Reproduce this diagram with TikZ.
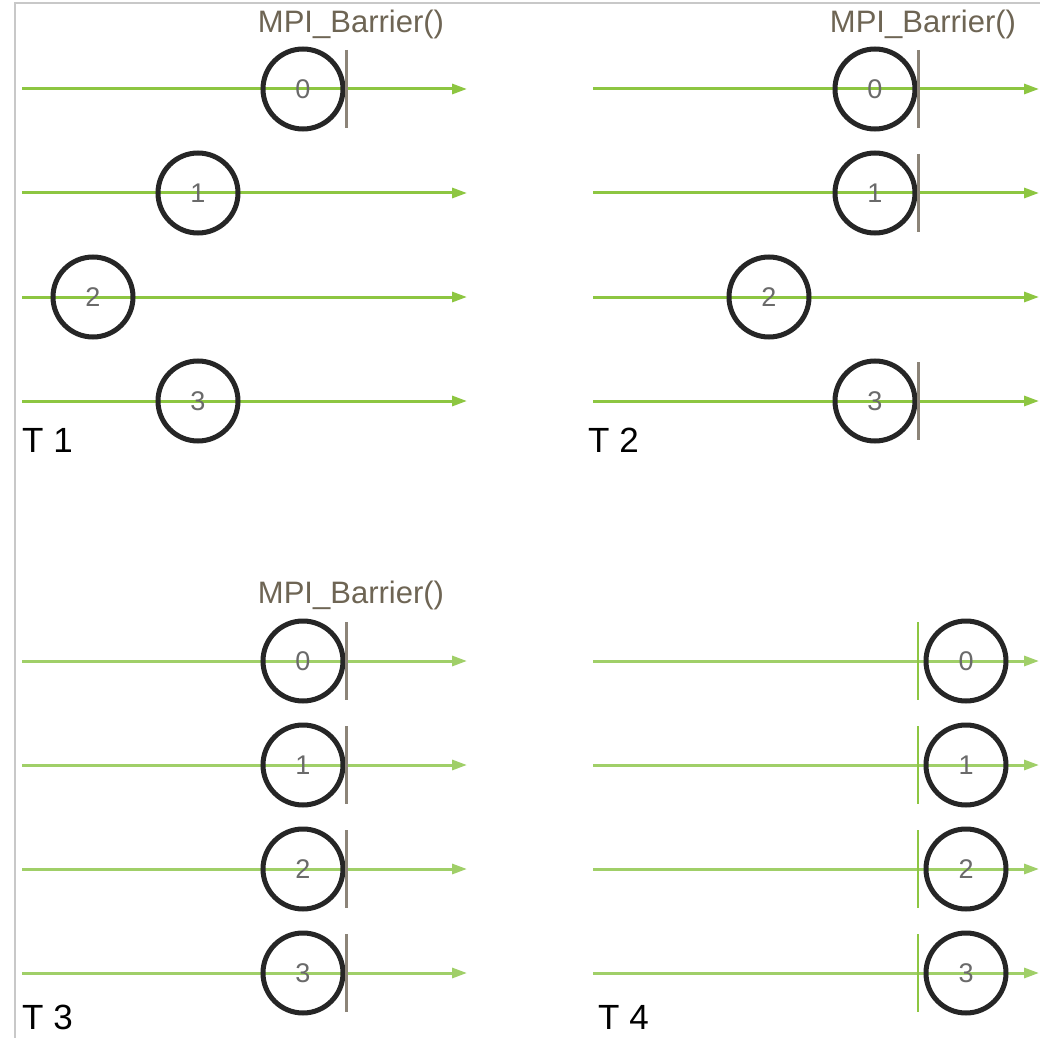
\documentclass[tikz,border=0pt]{standalone}
\usepackage{fontspec}
\setmainfont{Liberation Sans}
\usetikzlibrary{arrows.meta}
\definecolor{lgreen}{HTML}{8DC641}
\definecolor{lgreenb}{HTML}{A0CF68}
\definecolor{bargray}{HTML}{8C8478}
\definecolor{labbrown}{HTML}{6E6554}
\definecolor{digitgray}{HTML}{6A6A6A}
\definecolor{framegray}{HTML}{C8C8C8}
\begin{document}
\begin{tikzpicture}[x=1pt,y=-1pt,
  timeline/.style={lgreen, line width=3pt, -{Triangle[length=15pt,width=10pt]}},
  timelineb/.style={timeline, lgreenb},
  proc/.style={circle, draw=black!85, line width=5pt, minimum size=80pt, inner sep=0pt,
    text=digitgray, font=\fontsize{27}{27}\selectfont},
  barrier/.style={bargray, line width=3pt},
  gbarrier/.style={lgreen, line width=2.5pt},
  blabel/.style={anchor=base, text=labbrown, font=\fontsize{31}{31}\selectfont},
  tlabel/.style={anchor=base west, inner sep=0pt, font=\fontsize{35}{35}\selectfont},
  framel/.style={framegray, line width=1.5pt}]
\useasboundingbox (0,0) rectangle (1053,1038);
\fill[white] (0,0) rectangle (1053,1038);
% frame
\coordinate (f0) at (15,1038);
\coordinate (f1) at (15,3);
\coordinate (f2) at (1040,3);
\draw[framel] (f0) -- (f1) -- (f2);

% ---------- T1 ----------
\foreach \i/\y/\cx in {0/89/303,1/193/198,2/297/93,3/401/198}{
  \coordinate (a1s\i) at (22,\y);
  \coordinate (a1e\i) at (467,\y);
  \draw[timeline] (a1s\i) -- (a1e\i);
  \node[proc] (p1\i) at (\cx,\y) {\i};
}
\coordinate (b1t) at (346,50);
\coordinate (b1b) at (346,128);
\draw[barrier] (b1t) -- (b1b);
\node[blabel] (l1) at (351,33) {MPI\_Barrier()};
\node[tlabel] (t1) at (22,452) {T 1};

% ---------- T2 ----------
\foreach \i/\y/\cx in {0/89/875,1/193/875,2/297/769,3/401/875}{
  \coordinate (a2s\i) at (593,\y);
  \coordinate (a2e\i) at (1039,\y);
  \draw[timeline] (a2s\i) -- (a2e\i);
  \node[proc] (p2\i) at (\cx,\y) {\i};
}
\foreach \i/\y in {0/89,1/193,3/401}{
  \coordinate (b2t\i) at (918,\y-39);
  \coordinate (b2b\i) at (918,\y+39);
  \draw[barrier] (b2t\i) -- (b2b\i);
}
\node[blabel] (l2) at (923,33) {MPI\_Barrier()};
\node[tlabel] (t2) at (588,452) {T 2};

% ---------- T3 ----------
\foreach \i/\y in {0/661,1/765,2/869,3/973}{
  \coordinate (a3s\i) at (22,\y);
  \coordinate (a3e\i) at (467,\y);
  \draw[timelineb] (a3s\i) -- (a3e\i);
  \node[proc] (p3\i) at (303,\y) {\i};
  \coordinate (b3t\i) at (346,\y-39);
  \coordinate (b3b\i) at (346,\y+39);
  \draw[barrier] (b3t\i) -- (b3b\i);
}
\node[blabel] (l3) at (351,603) {MPI\_Barrier()};
\node[tlabel] (t3) at (22,1029) {T 3};

% ---------- T4 ----------
\foreach \i/\y in {0/661,1/765,2/869,3/973}{
  \coordinate (a4s\i) at (593,\y);
  \coordinate (a4e\i) at (1039,\y);
  \draw[timelineb] (a4s\i) -- (a4e\i);
  \coordinate (b4t\i) at (918,\y-39);
  \coordinate (b4b\i) at (918,\y+39);
  \draw[gbarrier] (b4t\i) -- (b4b\i);
  \node[proc] (p4\i) at (966,\y) {\i};
}
\node[tlabel] (t4) at (598,1029) {T 4};
\end{tikzpicture}
\end{document}
